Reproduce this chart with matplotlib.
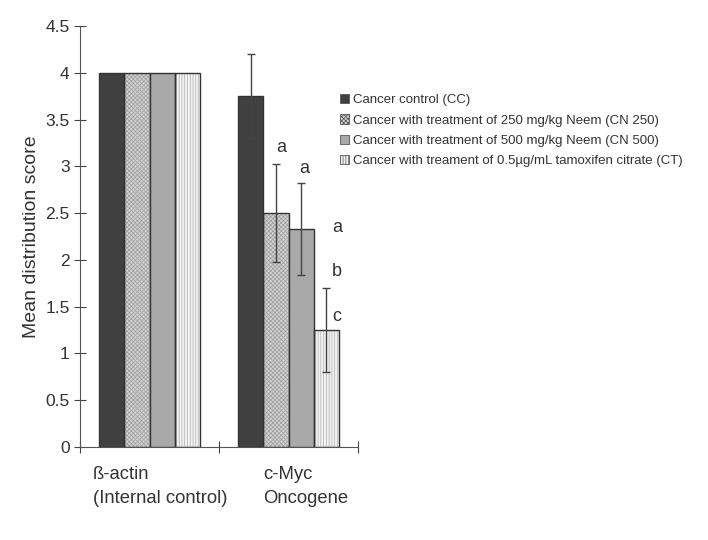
import numpy as np
import matplotlib
matplotlib.use("Agg")
import matplotlib.pyplot as plt
from matplotlib.patches import Patch

plt.rcParams['font.family'] = ['Liberation Sans', 'DejaVu Sans']
plt.rcParams['hatch.linewidth'] = 0.5

# data
categories = ['ß-actin\n(Internal control)', 'c-Myc\nOncogene']
series = ['Cancer control (CC)',
          'Cancer with treatment of 250 mg/kg Neem (CN 250)',
          'Cancer with treatment of 500 mg/kg Neem (CN 500)',
          'Cancer with treament of 0.5µg/mL tamoxifen citrate (CT)']
values = [[4, 3.75], [4, 2.5], [4, 2.33], [4, 1.25]]
errors = [[0, 0.45], [0, 0.52], [0, 0.49], [0, 0.45]]
letters = ['a', 'a', 'a', 'b', 'c']
letter_pos = [(0.95, 3.2), (1.11, 2.98), (1.35, 2.35), (1.35, 1.88), (1.35, 1.4)]

faces = ['#404040', '#d0d0d0', '#a9a9a9', '#f2f2f2']
hatches = [None, 'xxxxxxxx', None, '||||||']
hatch_cols = [None, '#a0a0a0', None, '#b0b0b0']

fig = plt.figure(figsize=(7.08, 5.4), dpi=100)
ax = fig.add_axes([80/708, 93/540, 278/708, 421/540])

x = np.arange(len(categories))
w = 0.182
for i in range(4):
    pos = x + (i - 1.5) * w
    if hatches[i]:
        ax.bar(pos, values[i], w, color=faces[i], edgecolor=hatch_cols[i],
               hatch=hatches[i], linewidth=0, zorder=2)
        ax.bar(pos, values[i], w, fill=False, edgecolor='#333333', linewidth=1, zorder=3)
    else:
        ax.bar(pos, values[i], w, color=faces[i], edgecolor='#333333', linewidth=1, zorder=3)
    err = np.array(errors[i])
    m = err > 0
    ax.errorbar(pos[m], np.array(values[i])[m], yerr=err[m], fmt='none',
                ecolor='#444444', elinewidth=1, capsize=3, capthick=1, zorder=4)

for t, (lx, ly) in zip(letters, letter_pos):
    ax.text(lx, ly, t, fontsize=13, ha='center', va='center', color='#333333')

ax.set_xlim(-0.5, 1.5)
ax.set_ylim(0, 4.5)
ax.set_yticks(np.arange(0, 4.51, 0.5))
ax.set_yticklabels(['0', '0.5', '1', '1.5', '2', '2.5', '3', '3.5', '4', '4.5'])
ax.set_xticks([-0.5, 0.5, 1.5])
ax.set_xticklabels([])
ax.tick_params(direction='inout', length=8, width=0.8, colors='#444444', labelsize=12.5,
               labelcolor='#333333')
for s in ['top', 'right']:
    ax.spines[s].set_visible(False)
for s in ['left', 'bottom']:
    ax.spines[s].set_color('#555555')
    ax.spines[s].set_linewidth(0.8)
ax.set_ylabel('Mean distribution score', fontsize=14, color='#333333', labelpad=4)

for xt, lab in zip([-0.41, 0.82], categories):
    ax.text(xt, -0.2, lab, fontsize=13.3, ha='left', va='top', color='#333333',
            linespacing=1.55)

handles = [Patch(facecolor=faces[i], edgecolor='#555555', hatch=hatches[i], linewidth=0.6)
           for i in range(4)]
fig.legend(handles, series, loc='upper left', bbox_to_anchor=(328/708, 1 - 82/540),
           frameon=False, fontsize=9.5, handlelength=0.7, handleheight=0.7,
           handletextpad=0.3, labelspacing=0.62, labelcolor='#333333')

fig.savefig('out.png', dpi=100)
